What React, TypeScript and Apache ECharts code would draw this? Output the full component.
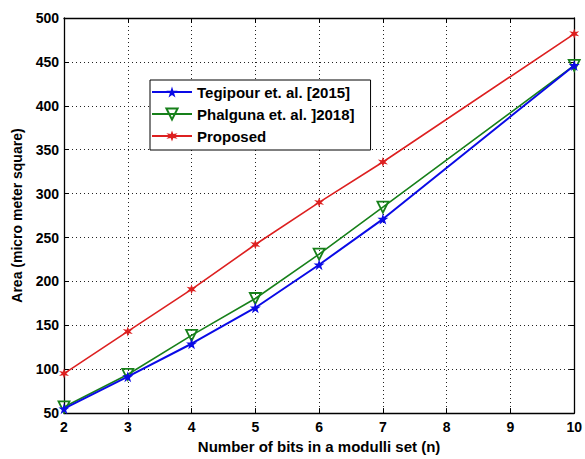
import React, { useEffect, useRef } from "react";
import * as echarts from "echarts";

const bits = [2, 3, 4, 5, 6, 7, 10];
const tegipour = [55, 91.5, 129, 170, 219, 271, 446];
const phalguna = [57, 94, 138.5, 180.5, 231, 284.5, 446];
const proposed = [95, 143, 191, 242, 290, 336, 482];
const seriesNames = ["Tegipour et. al. [2015]", "Phalguna et. al. ]2018]", "Proposed"];

const star5 =
  "path://M0,-10 L2.24,-3.09 L9.51,-3.09 L3.63,1.18 L5.88,8.09 L0,3.82 L-5.88,8.09 L-3.63,1.18 L-9.51,-3.09 L-2.24,-3.09 Z";
const triDown = "path://M0,10 L-10,-7 L10,-7 Z";
const star6 =
  "path://M0,-10 L2,-3.46 L8.66,-5 L4,0 L8.66,5 L2,3.46 L0,10 L-2,3.46 L-8.66,5 L-4,0 L-8.66,-5 L-2,-3.46 Z";

const pairs = (ys: number[]) => bits.map((x, i) => [x, ys[i]]);

export default function App() {
  const ref = useRef<HTMLDivElement>(null);
  useEffect(() => {
    if (!ref.current) return;
    const chart = echarts.init(ref.current, undefined, { renderer: "svg" });
    const font = "Liberation Sans, Arial, sans-serif";
    const labelStyle = { color: "#000", fontWeight: "bold" as const, fontSize: 14, fontFamily: font };
    const split = { show: true, lineStyle: { color: "#222", type: [1, 3] as any, width: 1 } };
    const axisLine = { show: true, onZero: false, lineStyle: { color: "#000", width: 1.3 } };
    const tick = { show: true, inside: true, length: 5, lineStyle: { color: "#000" } };
    chart.setOption({
      animation: false,
      backgroundColor: "#fff",
      grid: { left: 64, right: 7, top: 18, bottom: 42 },
      legend: {
        orient: "vertical",
        left: 150,
        top: 80,
        itemWidth: 40,
        itemHeight: 14,
        itemGap: 6,
        padding: [4, 16, 6, 1],
        borderColor: "#000",
        borderWidth: 1,
        backgroundColor: "#fff",
        textStyle: { ...labelStyle, fontSize: 15, lineHeight: 16 },
        data: seriesNames,
      },
      xAxis: [
        {
          type: "value",
          min: 2,
          max: 10,
          interval: 1,
          axisLine,
          axisTick: tick,
          splitLine: split,
          axisLabel: { ...labelStyle, margin: 7 },
          name: "Number of bits in a modulli set (n)",
          nameLocation: "middle",
          nameGap: 23,
          nameTextStyle: { ...labelStyle, fontSize: 15 },
        },
        {
          type: "value",
          position: "top",
          min: 2,
          max: 10,
          interval: 1,
          axisLine,
          axisTick: tick,
          splitLine: { show: false },
          axisLabel: { show: false },
        },
      ],
      yAxis: [
        {
          type: "value",
          min: 50,
          max: 500,
          interval: 50,
          axisLine,
          axisTick: tick,
          splitLine: split,
          axisLabel: { ...labelStyle, margin: 5 },
          name: "Area (micro meter square)",
          nameLocation: "middle",
          nameGap: 40,
          nameTextStyle: { ...labelStyle, fontSize: 14 },
        },
        {
          type: "value",
          position: "right",
          min: 50,
          max: 500,
          interval: 50,
          axisLine,
          axisTick: tick,
          splitLine: { show: false },
          axisLabel: { show: false },
        },
      ],
      series: [
        {
          name: seriesNames[0],
          type: "line",
          data: pairs(tegipour),
          symbol: star5,
          symbolSize: 11,
          lineStyle: { color: "#0a0ae6", width: 2 },
          itemStyle: { color: "#0a0ae6" },
          z: 4,
        },
        {
          name: seriesNames[1],
          type: "line",
          data: pairs(phalguna),
          symbol: triDown,
          symbolSize: 11,
          lineStyle: { color: "#17801a", width: 1.6 },
          itemStyle: { color: "transparent", borderColor: "#17801a", borderWidth: 1.8 },
          z: 3,
        },
        {
          name: seriesNames[2],
          type: "line",
          data: pairs(proposed),
          symbol: star6,
          symbolSize: 10,
          lineStyle: { color: "#dd2020", width: 1.6 },
          itemStyle: { color: "#dd2020" },
          z: 2,
        },
      ],
    });
    return () => chart.dispose();
  }, []);
  return (
    <div
      ref={ref}
      style={{ position: "fixed", left: 0, top: 0, width: 585, height: 459 }}
    />
  );
}
